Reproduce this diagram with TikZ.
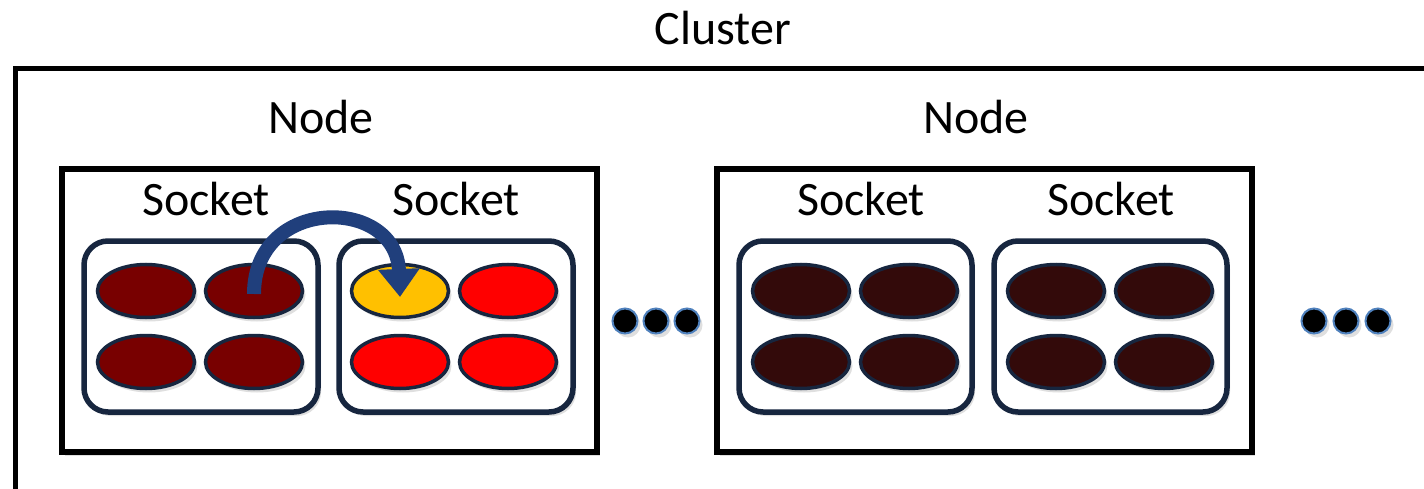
\documentclass[tikz,border=0pt]{standalone}
\usepackage{fontspec}
\setmainfont{Carlito}
\usetikzlibrary{arrows.meta,shadows,shapes.geometric}
\definecolor{navy}{HTML}{17263F}
\definecolor{arrowblue}{HTML}{203F7C}
\definecolor{darkred}{HTML}{780000}
\definecolor{brightred}{HTML}{FF0000}
\definecolor{gold}{HTML}{FFC000}
\definecolor{darkbrown}{HTML}{330A0A}
\definecolor{dotblue}{HTML}{4F81BD}
\begin{document}
\begin{tikzpicture}[x=1pt,y=-1pt,
  lbl/.style={font=\fontsize{48}{52}\selectfont, inner sep=0pt, anchor=base},
  shad/.style={drop shadow={opacity=0.25, shadow xshift=3pt, shadow yshift=-4pt}},
  clusterbox/.style={draw=black, line width=5pt, fill=white, shad},
  nodebox/.style={draw=black, line width=5.5pt, fill=white, shad},
  socketbox/.style={draw=navy, line width=5.5pt, rounded corners=24pt, fill=white, shad},
  core/.style={ellipse, draw=navy, line width=3.5pt, minimum width=97pt, minimum height=53pt, inner sep=0pt, shad},
  dot/.style={circle, fill=black, draw=dotblue, line width=2pt, minimum size=25pt, inner sep=0pt, shad},
  mig/.style={draw=arrowblue, line width=14pt, -{Triangle[width=40pt,length=28pt]}}
]
\useasboundingbox (0,0) rectangle (1424,489);
\fill[white] (0,0) rectangle (1424,489);
% cluster
\path[clusterbox] (15,69) rectangle (1450,520);
\node[lbl] (clusterlbl) at (723,45) {Cluster};
% node boxes
\path[nodebox] (62,169) rectangle (597,452);
\path[nodebox] (717,169) rectangle (1252,452);
\node[lbl] (nodelblA) at (321,134) {Node};
\node[lbl] (nodelblB) at (976,134) {Node};
% sockets
\path[socketbox] (84,241) rectangle (318,412);
\path[socketbox] (339,241) rectangle (573,412);
\path[socketbox] (739,241) rectangle (972,412);
\path[socketbox] (994,241) rectangle (1227,412);
\node[lbl] (sockA) at (206,215) {Socket};
\node[lbl] (sockB) at (456,215) {Socket};
\node[lbl] (sockC) at (861,215) {Socket};
\node[lbl] (sockD) at (1111,215) {Socket};
% cores
\node[core, fill=darkred] (a1) at (146,291) {};
\node[core, fill=darkred] (a2) at (254,291) {};
\node[core, fill=darkred] (a3) at (146,362) {};
\node[core, fill=darkred] (a4) at (254,362) {};
\node[core, fill=gold] (b1) at (400,291) {};
\node[core, fill=brightred] (b2) at (508,291) {};
\node[core, fill=brightred] (b3) at (400,362) {};
\node[core, fill=brightred] (b4) at (508,362) {};
\node[core, fill=darkbrown] (c1) at (801,291) {};
\node[core, fill=darkbrown] (c2) at (909,291) {};
\node[core, fill=darkbrown] (c3) at (801,362) {};
\node[core, fill=darkbrown] (c4) at (909,362) {};
\node[core, fill=darkbrown] (d1) at (1056,291) {};
\node[core, fill=darkbrown] (d2) at (1164,291) {};
\node[core, fill=darkbrown] (d3) at (1056,362) {};
\node[core, fill=darkbrown] (d4) at (1164,362) {};
% migration arrow
\coordinate (migstart) at ([yshift=-3pt]a2.center);
\coordinate (migend) at ([yshift=-6pt]b1.center);
\draw[mig] (migstart) .. controls (254,196) and (396,196) .. (migend);
% dots
\node[dot] (e1) at (625,321) {};
\node[dot] (e2) at (656,321) {};
\node[dot] (e3) at (687,321) {};
\node[dot] (f1) at (1314,321) {};
\node[dot] (f2) at (1346,321) {};
\node[dot] (f3) at (1378,321) {};
\end{tikzpicture}
\end{document}
